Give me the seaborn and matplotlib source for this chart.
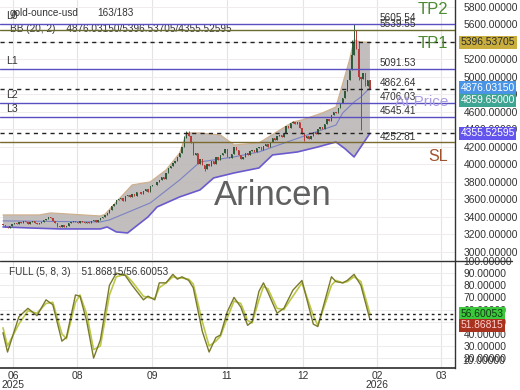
import matplotlib
matplotlib.use("Agg")
import matplotlib.pyplot as plt
import matplotlib.transforms as mtransforms
import numpy as np
import pandas as pd
import seaborn as sns

# ---------------- data ----------------
closes = [
    3310, 3285, 3270, 3300, 3320, 3335, 3325, 3345, 3330, 3350, 3340, 3325, 3345, 3355, 3335, 3320, 3330, 3345, 3360, 3380, 3400, 3385,
    3350, 3330, 3300, 3290, 3310, 3280, 3300, 3330, 3340, 3355, 3345, 3330, 3350, 3340, 3330, 3345, 3335, 3350, 3360, 3345, 3370, 3385,
    3400, 3420, 3450, 3480, 3530, 3545, 3590, 3600, 3620, 3585, 3640, 3650, 3625,
    3660, 3645, 3680, 3690, 3660, 3700, 3720, 3690, 3750, 3770, 3760, 3800, 3825,
    3860, 3830, 3900, 3960, 3980, 4020, 4040, 4080, 4130, 4200, 4300, 4360,
    4330, 4250, 4110, 4130, 4000, 4060, 3990, 3950, 4010, 3980, 4040, 4000, 4080,
    4050, 4110, 4130, 4180, 4090, 4070, 4120, 4200, 4160, 4110, 4060, 4080, 4130, 4110, 4150, 4170, 4140, 4190, 4200, 4170,
    4210, 4230, 4200, 4260, 4300, 4280, 4320, 4340, 4310, 4360, 4440, 4420, 4470, 4490, 4460, 4480, 4420, 4350, 4300,
    4320, 4290, 4330, 4370, 4350, 4400, 4430, 4410, 4460, 4520, 4500, 4560, 4600, 4590,
    4640, 4700, 4760, 4840, 4960, 5080, 5250, 5400, 5320, 5000, 4980, 5050, 4900, 4960, 4859.65,
]
first_open = 3320
wick_high = {81: 4385, 82: 4380, 80: 4330, 154: 5420, 155: 5605.54, 156: 5540, 157: 5410, 128: 4500}
wick_low = {157: 4960, 158: 4390, 89: 3930, 133: 4270, 24: 3285}

bb_up_x = [0, 16, 21, 43, 45, 57, 65, 72, 78, 81, 87, 96, 102, 113, 128, 132, 141, 147, 153, 155, 158, 162]
bb_up_y = [3423, 3423, 3446, 3411, 3430, 3766, 3800, 3937, 4131, 4360, 4360, 4337, 4223, 4246, 4486, 4509, 4589, 4657, 5194, 5423, 5400, 5396.54]
bb_lo_x = [0, 12, 25, 43, 46, 50, 55, 64, 68, 78, 87, 93, 102, 113, 119, 130, 139, 147, 151, 155, 162]
bb_lo_y = [3286, 3274, 3263, 3263, 3286, 3229, 3217, 3400, 3514, 3629, 3709, 3846, 3903, 3960, 4109, 4143, 4200, 4257, 4180, 4086, 4355.53]
bb_mid_x = [0, 43, 47, 65, 78, 87, 102, 113, 128, 147, 150, 155, 158, 162]
bb_mid_y = [3355, 3343, 3366, 3560, 3823, 4029, 4086, 4143, 4280, 4451, 4589, 4714, 4771, 4876.03]

osc_x = [0, 2, 7, 11, 15, 19, 22, 26, 28, 32, 34, 37, 40, 43, 47, 50, 54, 57, 62, 64,
         67, 69, 72, 75, 77, 79, 82, 84, 88, 91, 94, 96, 99, 102, 105, 108, 110, 113, 115, 117,
         121, 124, 128, 132, 137, 139, 145, 147, 150, 152, 155, 158, 162]
osc_k = [41, 25, 54, 61, 55, 68, 64, 34, 37, 72, 71, 50, 20, 35, 80, 90, 88, 80, 68, 71,
         68, 82, 82, 89, 85, 87, 84, 78, 42, 25, 37, 39, 58, 70, 62, 47, 50, 75, 82, 74,
         57, 61, 76, 84, 48, 46, 87, 83, 82, 84, 89, 80, 51.87]
osc_d = [45, 30, 48, 59, 57, 65, 66, 40, 36, 66, 72, 56, 27, 30, 72, 87, 89, 83, 71, 70,
         69, 78, 82, 87, 86, 86, 85, 81, 50, 30, 34, 38, 53, 67, 65, 51, 49, 68, 79, 77,
         61, 60, 71, 82, 55, 47, 80, 84, 82, 83, 87, 83, 56.60]

levels = [5605.54, 5539.55, 5091.53, 4706.03, 4545.41, 4252.81]
level_colors = ["#5a4fc0", "#6b6b2e", "#5a4fc0", "#5a4fc0", "#5a4fc0", "#7a6a30"]
level_names = {5605.54: "L0", 5091.53: "L1", 4706.03: "L2", 4545.41: "L3"}
dashed_levels = [5396.53705, 4862.64, 4355.52595]
value_labels = [5605.54, 5539.55, 5091.53, 4862.64, 4706.03, 4545.41, 4252.81]

tick_pos = [4.4, 32.7, 65.8, 98.9, 132.5, 165.1, 193.4]
tick_labels = ["06\n2025", "08", "09", "11", "12", "02\n2026", "03"]

# ---------------- figure ----------------
sns.set_theme(style="white")
plt.rcParams["font.family"] = ["Liberation Sans", "DejaVu Sans"]

fig = plt.figure(figsize=(5.2, 3.9), dpi=100)
ax = fig.add_axes([0, 130 / 390, 455 / 520, 260 / 390])
axo = fig.add_axes([0, 22 / 390, 455 / 520, 107 / 390])

xl = (-1.32, 199.56)
for a in (ax, axo):
    a.set_xlim(*xl)
    a.set_facecolor("white")
    for s in ("left", "top", "bottom"):
        a.spines[s].set_visible(False)
    a.spines["right"].set_color("#333333")
    a.spines["right"].set_linewidth(1.0)
    for t in tick_pos:
        a.axvline(t, color="#e4e4e4", lw=0.8, zorder=0)

ax.set_ylim(2908, 5880)
yt = list(range(3000, 5801, 200))
ax.set_yticks(yt)
ax.set_yticklabels([f"{v:.5f}" for v in yt])
for v in yt:
    ax.axhline(v, color="#f0ecec", lw=0.7, zorder=0)
ax.yaxis.tick_right()
ax.tick_params(axis="y", labelsize=7.4, pad=6, length=0, colors="#333333")
ax.set_xticks([])

# Bollinger band
poly_x = bb_up_x + bb_lo_x[::-1]
poly_y = bb_up_y + bb_lo_y[::-1]
ax.fill(poly_x, poly_y, color="#bcb7b6", alpha=0.9, zorder=1, lw=0)
sns.lineplot(x=bb_up_x, y=bb_up_y, ax=ax, color="#cfb08e", lw=0.9, zorder=2)
sns.lineplot(x=bb_lo_x, y=bb_lo_y, ax=ax, color="#6a5acd", lw=1.2, zorder=2)
sns.lineplot(x=bb_mid_x, y=bb_mid_y, ax=ax, color="#7b82c4", lw=0.8, zorder=2)

# candles
n = len(closes)
idx = np.arange(n)
opens = [first_open] + closes[:-1]
highs = [wick_high.get(i, max(opens[i], closes[i])) for i in range(n)]
lows = [wick_low.get(i, min(opens[i], closes[i])) for i in range(n)]
cols = ["#2f5a3a" if closes[i] >= opens[i] else "#b83a3a" for i in range(n)]
ax.vlines(idx, lows, highs, colors=cols, lw=0.7, zorder=3)
bottoms = [min(opens[i], closes[i]) for i in range(n)]
heights = [max(abs(closes[i] - opens[i]), 4) for i in range(n)]
ax.bar(idx, heights, bottom=bottoms, width=0.6, color=cols, lw=0, zorder=3)

# levels
for lv, c in zip(levels, level_colors):
    ax.axhline(lv, color=c, lw=1.0, zorder=4)
for lv in dashed_levels:
    ax.axhline(lv, color="#222222", lw=1.0, ls=(0, (3, 3)), zorder=4)
for lv in value_labels:
    ax.annotate(f"{lv:.2f}", (166.4, lv), xytext=(0, 0.5), textcoords="offset points",
                fontsize=7.2, color="#333333", va="bottom", ha="left", zorder=6)
for lv, nm in level_names.items():
    ax.annotate(nm, (1.6, lv), xytext=(0, 2), textcoords="offset points",
                fontsize=7.6, color="#333333", va="bottom", ha="left", zorder=6)

ax.text(196.5, 5766, "TP2", fontsize=12, color="#4d8a32", ha="right", va="center", zorder=6)
ax.text(196.5, 5388, "TP1", fontsize=12, color="#4d8a32", ha="right", va="center", zorder=6)
ax.text(196.5, 4086, "SL", fontsize=11.5, color="#a0522d", ha="right", va="center", zorder=6)
ax.text(196.5, 4714, "At Price", fontsize=11, color="#a99be0", ha="right", va="center", zorder=6)
ax.text(119, 3651, "Arincen", fontsize=25, color="#606060", ha="center", va="center", zorder=6)

ax.text(10 / 455, 1 - 13 / 260, "gold-ounce-usd", transform=ax.transAxes, fontsize=7.2,
        color="#333333", va="center", ha="left")
ax.text(97 / 455, 1 - 13 / 260, "163/183", transform=ax.transAxes, fontsize=7.2,
        color="#333333", va="center", ha="left")
ax.text(10 / 455, 1 - 29 / 260, "BB (20, 2)    4876.03150/5396.53705/4355.52595",
        transform=ax.transAxes, fontsize=7.2, color="#333333", va="center", ha="left")

trans = mtransforms.blended_transform_factory(ax.transAxes, ax.transData)
boxes = [(5396.53705, "5396.53705", "#c9ae3e", "#2a2a2a"),
         (4876.03150, "4876.03150", "#4a94e6", "white"),
         (4735, "4859.65000", "#3ea592", "white"),
         (4355.52595, "4355.52595", "#6454ee", "white")]
for yv, txt, fc, tc in boxes:
    ax.text(1.012, yv, txt, transform=trans, fontsize=7.4, color=tc, ha="left", va="center",
            bbox=dict(boxstyle="square,pad=0.15", fc=fc, ec="none"), zorder=7, clip_on=False)

# oscillator
axo.set_ylim(11.85, 100)
ot = list(range(20, 101, 10))
axo.set_yticks(ot)
axo.set_yticklabels([f"{v:.5f}" for v in ot])
for v in ot:
    axo.axhline(v, color="#ececec", lw=0.7, zorder=0)
axo.yaxis.tick_right()
axo.tick_params(axis="y", labelsize=7.4, pad=6, length=0, colors="#333333")
axo.spines["bottom"].set_visible(True)
axo.spines["bottom"].set_color("#333333")
axo.set_xticks(tick_pos)
axo.set_xticklabels(tick_labels)
axo.tick_params(axis="x", labelsize=7.4, length=0, pad=2, colors="#333333")
for lbl in axo.get_xticklabels():
    lbl.set_linespacing(0.95)

sns.lineplot(x=osc_x, y=osc_d, ax=axo, color="#bcc84c", lw=1.2, zorder=3)
sns.lineplot(x=osc_x, y=osc_k, ax=axo, color="#7a7a2a", lw=1.0, zorder=3)
axo.axhline(56.60053, color="#222222", lw=1.0, ls=(0, (2, 2.5)), zorder=4)
axo.axhline(51.86815, color="#222222", lw=1.0, ls=(0, (2, 2.5)), zorder=4)
axo.text(9 / 455, 0.897, "FULL (5, 8, 3)    51.86815/56.60053", transform=axo.transAxes,
         fontsize=7.2, color="#333333", va="center", ha="left")
transo = mtransforms.blended_transform_factory(axo.transAxes, axo.transData)
axo.text(1.0 + 7 / 455, 17.5, "10.00000", transform=transo, fontsize=7.4, color="#333333",
         ha="left", va="center", clip_on=False)
axo.text(1.012, 56.60053, "56.60053", transform=transo, fontsize=7.4, color="#123a12",
         ha="left", va="center", bbox=dict(boxstyle="square,pad=0.15", fc="#3cc83c", ec="none"),
         zorder=7, clip_on=False)
axo.text(1.012, 47.0, "51.86815", transform=transo, fontsize=7.4, color="#ffd0d0",
         ha="left", va="center", bbox=dict(boxstyle="square,pad=0.15", fc="#a8321e", ec="none"),
         zorder=7, clip_on=False)

# separator line across the full width
fig.add_artist(plt.Line2D([0, 0.985], [1 - 261 / 390, 1 - 261 / 390], color="#333333", lw=1.0,
                          transform=fig.transFigure))

fig.savefig("out.png", dpi=100)
